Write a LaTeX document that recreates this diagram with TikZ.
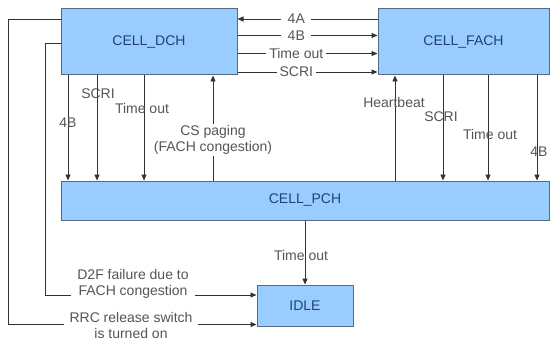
\documentclass[tikz,border=0pt]{standalone}
\usepackage{fontspec}
\setmainfont{Liberation Sans}
\usetikzlibrary{arrows.meta}
\definecolor{boxfill}{RGB}{153,204,255}
\definecolor{boxline}{RGB}{85,105,130}
\definecolor{boxtext}{RGB}{35,65,115}
\definecolor{linecol}{RGB}{50,50,50}
\definecolor{labelcol}{RGB}{85,85,85}

\begin{document}
\begin{tikzpicture}[x=1pt,y=-1pt,
  state/.style={draw=boxline, fill=boxfill, line width=1pt, text=boxtext,
    font=\fontsize{14}{16}\selectfont, inner sep=0pt},
  arr/.style={draw=linecol, line width=0.9pt, -{Triangle[length=6pt,width=5pt]}},
  lbl/.style={text=labelcol, font=\fontsize{14}{16}\selectfont, inner sep=1pt, align=center},
  lblw/.style={lbl, fill=white, inner xsep=3pt, inner ysep=1pt, minimum width=30pt}]
\useasboundingbox (0,0) rectangle (551,342);

% states
\node[state, minimum width=176pt, minimum height=66pt] (dch)  at (149,42)    {CELL\_DCH};
\node[state, minimum width=171pt, minimum height=66pt] (fach) at (463.5,42)  {CELL\_FACH};
\node[state, minimum width=488pt, minimum height=39pt] (pch)  at (305,200.5) {CELL\_PCH};
\node[state, minimum width=96pt,  minimum height=41pt] (idle) at (305,305.5) {IDLE};

% rows and columns used by the connectors
\coordinate (r4A) at (0,19);
\coordinate (r4B) at (0,35.5);
\coordinate (rTO) at (0,53.5);
\coordinate (rSC) at (0,72);
\coordinate (rDch) at (0,43);
\coordinate (rD2F) at (0,295);
\coordinate (rRRC) at (0,324.5);
\coordinate (cOut) at (8,0);
\coordinate (cIn)  at (45,0);
\coordinate (cD4B) at (68,0);
\coordinate (cDSC) at (97,0);
\coordinate (cDTO) at (144,0);
\coordinate (cCS)  at (213,0);
\coordinate (cHB)  at (395,0);
\coordinate (cFSC) at (443,0);
\coordinate (cFTO) at (488,0);
\coordinate (cF4B) at (537,0);
\coordinate (cIdle) at (305,0);

% CELL_DCH <-> CELL_FACH
\draw[arr] (fach.west |- r4A) -- node[lblw, pos=0.58] {4A} (dch.east |- r4A);
\draw[arr] (dch.east |- r4B) -- node[lblw, pos=0.42] {4B} (fach.west |- r4B);
\draw[arr] (dch.east |- rTO) -- node[lblw, pos=0.42] {Time out} (fach.west |- rTO);
\draw[arr] (dch.east |- rSC) -- node[lblw, pos=0.42] {SCRI} (fach.west |- rSC);

% CELL_DCH -> CELL_PCH
\draw[arr] (dch.south -| cD4B) -- (pch.north -| cD4B);
\draw[arr] (dch.south -| cDSC) -- (pch.north -| cDSC);
\draw[arr] (dch.south -| cDTO) -- (pch.north -| cDTO);
\node[lbl] at (68,123) {4B};
\node[lbl] at (98,94) {SCRI};
\node[lbl] at (142,108) {Time out};

% CELL_PCH -> CELL_DCH
\draw[arr] (pch.north -| cCS) -- (dch.south -| cCS);
\node[lblw, inner xsep=1pt] at (213,140) {CS paging\\(FACH congestion)};

% CELL_PCH <-> CELL_FACH
\draw[arr] (pch.north -| cHB) -- (fach.south -| cHB);
\draw[arr] (fach.south -| cFSC) -- (pch.north -| cFSC);
\draw[arr] (fach.south -| cFTO) -- (pch.north -| cFTO);
\draw[arr] (fach.south -| cF4B) -- (pch.north -| cF4B);
\node[lbl] at (394,102) {Heartbeat};
\node[lbl] at (441,117) {SCRI};
\node[lbl] at (490,134) {Time out};
\node[lbl] at (539,152) {4B};

% CELL_PCH -> IDLE
\draw[arr] (pch.south -| cIdle) -- (idle.north -| cIdle);
\node[lbl] at (301,255) {Time out};

% CELL_DCH -> IDLE
\draw[arr] (dch.west |- rDch) -| (cIn |- rD2F) -- (idle.west |- rD2F);
\node[lblw, inner xsep=6pt] at (133,283.5) {D2F failure due to\\FACH congestion};
\draw[arr] (dch.west |- r4A) -| (cOut |- rRRC) -- (idle.west |- rRRC);
\node[lblw, inner xsep=6pt] at (131,325) {RRC release switch\\is turned on};
\end{tikzpicture}
\end{document}
